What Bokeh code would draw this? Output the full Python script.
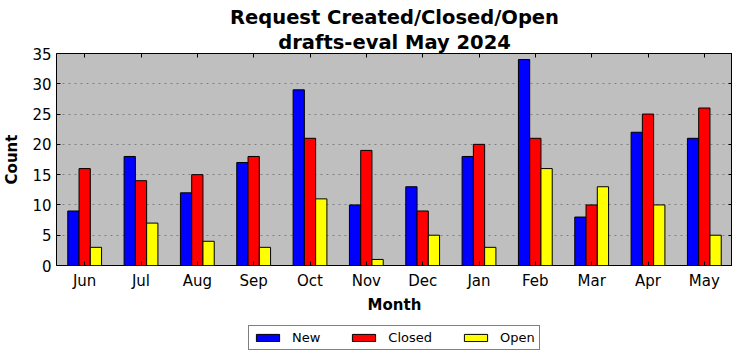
from bokeh.plotting import figure
from bokeh.layouts import column
from bokeh.models import (ColumnDataSource, Range1d, LinearAxis, FixedTicker,
                          Legend, LegendItem, Title)
from bokeh.transform import dodge
from bokeh.embed import file_html
from bokeh.resources import INLINE

months = ["Jun", "Jul", "Aug", "Sep", "Oct", "Nov", "Dec", "Jan", "Feb", "Mar", "Apr", "May"]
new_vals = [9, 18, 12, 17, 29, 10, 13, 18, 34, 8, 22, 21]
closed_vals = [16, 14, 15, 18, 21, 19, 9, 20, 21, 10, 25, 26]
open_vals = [3, 7, 4, 3, 11, 1, 5, 3, 16, 13, 10, 5]
y_ticks = [0, 5, 10, 15, 20, 25, 30, 35]
series = ["New", "Closed", "Open"]
colors = ["#0000ff", "#ff0000", "#ffff00"]

FONT = "DejaVu Sans"

src = ColumnDataSource(dict(x=list(range(len(months))), new=new_vals,
                            closed=closed_vals, open=open_vals))

p = figure(frame_width=676, frame_height=212, output_backend="svg",
           toolbar_location=None, x_range=Range1d(-0.5, 11.5),
           y_range=Range1d(0, 35), min_border_left=0, min_border_right=0,
           min_border_top=0, min_border_bottom=0, background_fill_color="#bfbfbf",
           border_fill_color="white", x_axis_location=None, y_axis_location=None)
p.outline_line_color = "black"
p.outline_line_width = 1

w = 0.2
for off, col, c in zip([-w, 0.0, w], ["new", "closed", "open"], colors):
    p.vbar(x=dodge("x", off, range=p.x_range), top=col, width=w, source=src,
           fill_color=c, line_color="black", line_width=1)

xt = FixedTicker(ticks=list(range(len(months))))
yt = FixedTicker(ticks=y_ticks)
overrides = {i: m for i, m in enumerate(months)}


def style_axis(ax, labels=True):
    ax.major_tick_in = 4
    ax.major_tick_out = 0
    ax.minor_tick_in = 0
    ax.minor_tick_out = 0
    ax.axis_line_color = None
    ax.major_tick_line_color = "black"
    ax.major_label_text_font = FONT
    ax.major_label_text_font_size = "15px" if labels else "0px"
    ax.major_label_text_color = "black"
    ax.axis_label_text_font = FONT
    ax.axis_label_text_font_size = "15px"
    ax.axis_label_text_font_style = "bold"
    ax.axis_label_text_color = "black"
    if not labels:
        ax.major_label_standoff = 0
        ax.axis_label_standoff = 0


xb = LinearAxis(ticker=xt, major_label_overrides=overrides, axis_label="Month")
style_axis(xb)
xb.major_label_standoff = 6
xb.axis_label_standoff = 3
p.add_layout(xb, "below")

yl = LinearAxis(ticker=yt, axis_label="Count")
style_axis(yl)
yl.major_label_standoff = 5
yl.axis_label_standoff = 8
p.add_layout(yl, "left")

yr = LinearAxis(ticker=yt)
style_axis(yr, labels=False)
yr.major_label_overrides = {t: "" for t in y_ticks}
p.add_layout(yr, "right")

xa = LinearAxis(ticker=xt)
style_axis(xa, labels=False)
xa.major_label_overrides = {i: "" for i in range(len(months))}
p.add_layout(xa, "above")

p.ygrid.ticker = yt
p.ygrid.grid_line_color = "#808080"
p.ygrid.grid_line_dash = "2 4"
p.ygrid.grid_line_width = 1
p.xgrid.visible = False

t2 = Title(text="drafts-eval May 2024", align="center", text_font=FONT,
           text_font_size="19.5px", text_font_style="bold", text_color="black",
           standoff=0, offset=0)
t1 = Title(text="Request Created/Closed/Open", align="center", text_font=FONT,
           text_font_size="19.5px", text_font_style="bold", text_color="black",
           standoff=0, offset=0)
spacer = Title(text=" ", align="center", text_font=FONT, text_font_size="1px",
               standoff=0, offset=0)
p.add_layout(t2, "above")
p.add_layout(t1, "above")
p.add_layout(spacer, "above")

# legend strip below the chart
p2 = figure(width=726, height=36, output_backend="svg", toolbar_location=None,
            x_range=Range1d(0, 1), y_range=Range1d(0, 1), min_border_left=0,
            min_border_right=0, min_border_top=0, min_border_bottom=0,
            x_axis_location=None, y_axis_location=None, outline_line_color=None)
p2.grid.visible = False
items = []
for name, c in zip(series, colors):
    r = p2.vbar(x=[-10], top=[0], width=0.1, fill_color=c, line_color="black", line_width=1)
    items.append(LegendItem(label=name, renderers=[r]))

legend = Legend(items=items, orientation="horizontal", location=(192, 2))
legend.label_text_font = FONT
legend.label_text_font_size = "13px"
legend.label_text_color = "black"
legend.glyph_width = 29
legend.glyph_height = 9
legend.label_height = 12
legend.label_standoff = 10
legend.spacing = 29
legend.padding = 4
legend.margin = 0
legend.border_line_color = "black"
legend.border_line_width = 1
legend.background_fill_color = "white"
legend.background_fill_alpha = 1
p2.add_layout(legend, "center")

layout = column(p, p2, spacing=0)
open("out.html", "w").write(file_html(layout, INLINE))
